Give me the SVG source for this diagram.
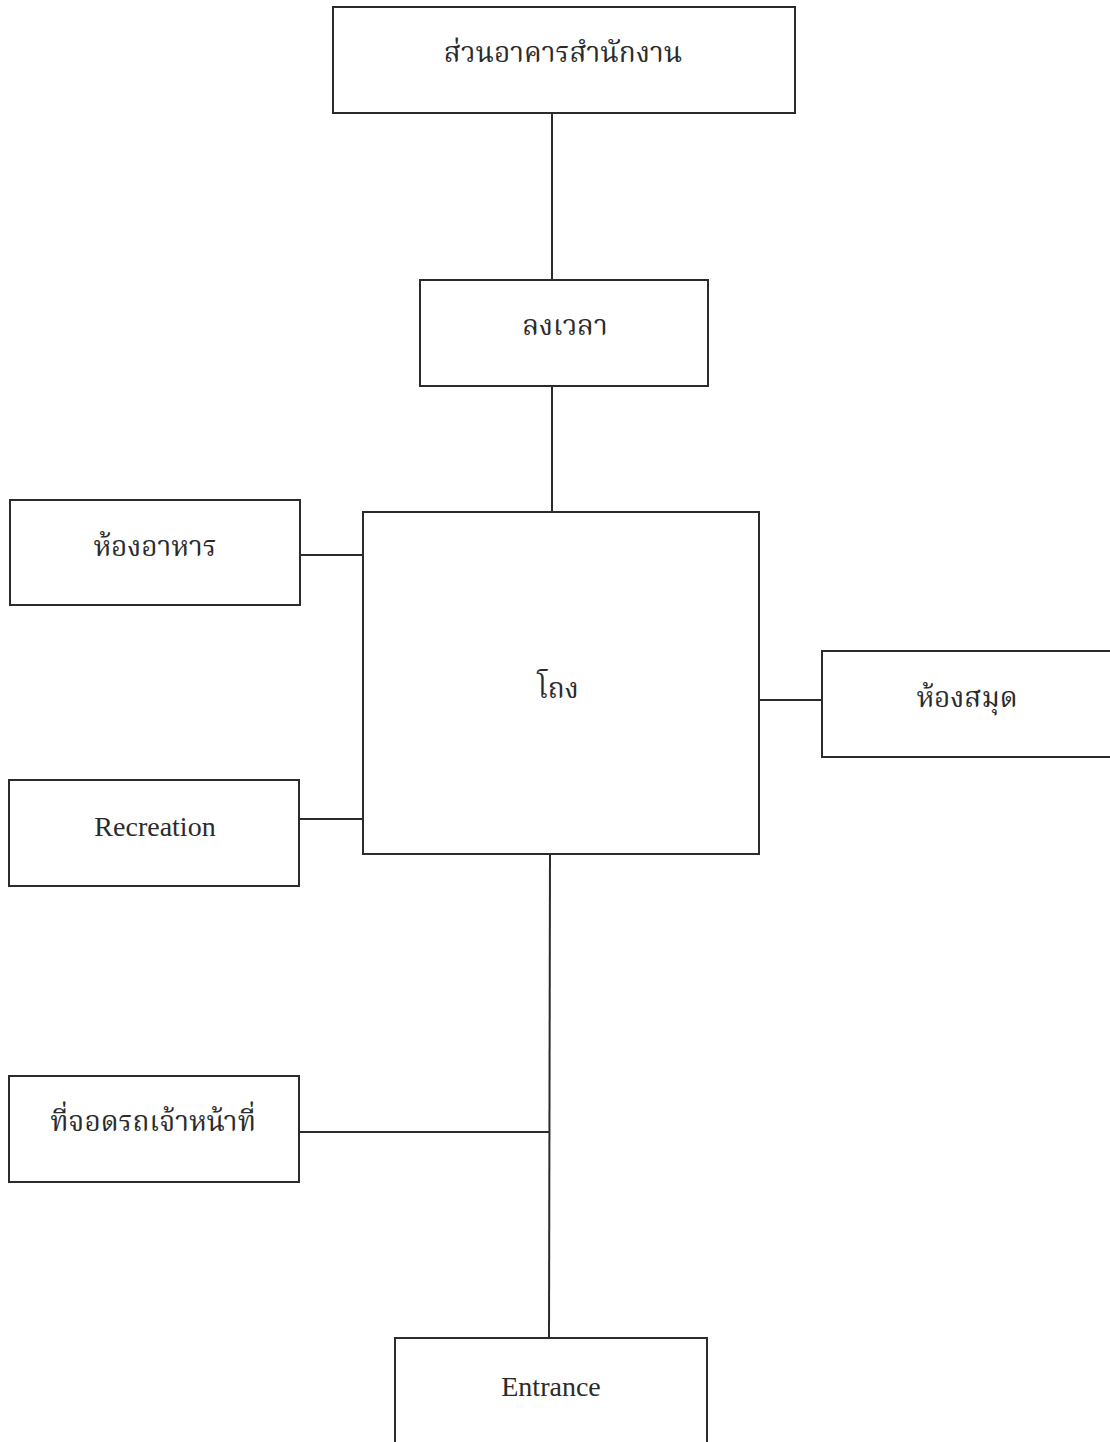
<svg xmlns="http://www.w3.org/2000/svg" width="1110" height="1442" viewBox="0 0 1110 1442">
  <style>
    .box { fill: #ffffff; stroke: #2b2b2b; stroke-width: 2; }
    .link { fill: none; stroke: #2b2b2b; stroke-width: 2; }
    .th { font-family: "Noto Serif Thai", "Noto Sans Thai Looped", "Noto Sans Thai", "Liberation Serif", serif; font-size: 28px; fill: #2b2b2b; text-anchor: middle; }
    .en { font-family: "Liberation Serif", "Times New Roman", serif; font-size: 28px; fill: #2b2b2b; text-anchor: middle; }
  </style>
  <rect width="1110" height="1442" fill="#ffffff"/>

  <!-- connectors -->
  <g id="connectors">
    <line class="link" x1="552" y1="113" x2="552" y2="280"/>
    <line class="link" x1="552" y1="386" x2="552" y2="512"/>
    <line class="link" x1="300" y1="555" x2="363" y2="555"/>
    <line class="link" x1="299" y1="819" x2="363" y2="819"/>
    <line class="link" x1="759" y1="700" x2="822" y2="700"/>
    <line class="link" x1="550" y1="854" x2="549" y2="1338"/>
    <line class="link" x1="299" y1="1132" x2="550" y2="1132"/>
  </g>

  <!-- office wing -->
  <g id="office">
    <rect class="box" x="333" y="7" width="462" height="106"/>
    <text class="th" x="563" y="62">ส่วนอาคารสำนักงาน</text>
  </g>

  <!-- time clock -->
  <g id="timeclock">
    <rect class="box" x="420" y="280" width="288" height="106"/>
    <text class="th" x="565" y="335">ลงเวลา</text>
  </g>

  <!-- lobby -->
  <g id="lobby">
    <rect class="box" x="363" y="512" width="396" height="342"/>
    <text class="th" x="558" y="698">โถง</text>
  </g>

  <!-- dining room -->
  <g id="dining">
    <rect class="box" x="10" y="500" width="290" height="105"/>
    <text class="th" x="155" y="556">ห้องอาหาร</text>
  </g>

  <!-- library -->
  <g id="library">
    <rect class="box" x="822" y="651" width="300" height="106"/>
    <text class="th" x="967" y="707">ห้องสมุด</text>
  </g>

  <!-- recreation -->
  <g id="recreation">
    <rect class="box" x="9" y="780" width="290" height="106"/>
    <text class="en" x="155" y="836">Recreation</text>
  </g>

  <!-- staff parking -->
  <g id="parking">
    <rect class="box" x="9" y="1076" width="290" height="106"/>
    <text class="th" x="153" y="1131">ที่จอดรถเจ้าหน้าที่</text>
  </g>

  <!-- entrance -->
  <g id="entrance">
    <rect class="box" x="395" y="1338" width="312" height="120"/>
    <text class="en" x="551" y="1396">Entrance</text>
  </g>
</svg>
